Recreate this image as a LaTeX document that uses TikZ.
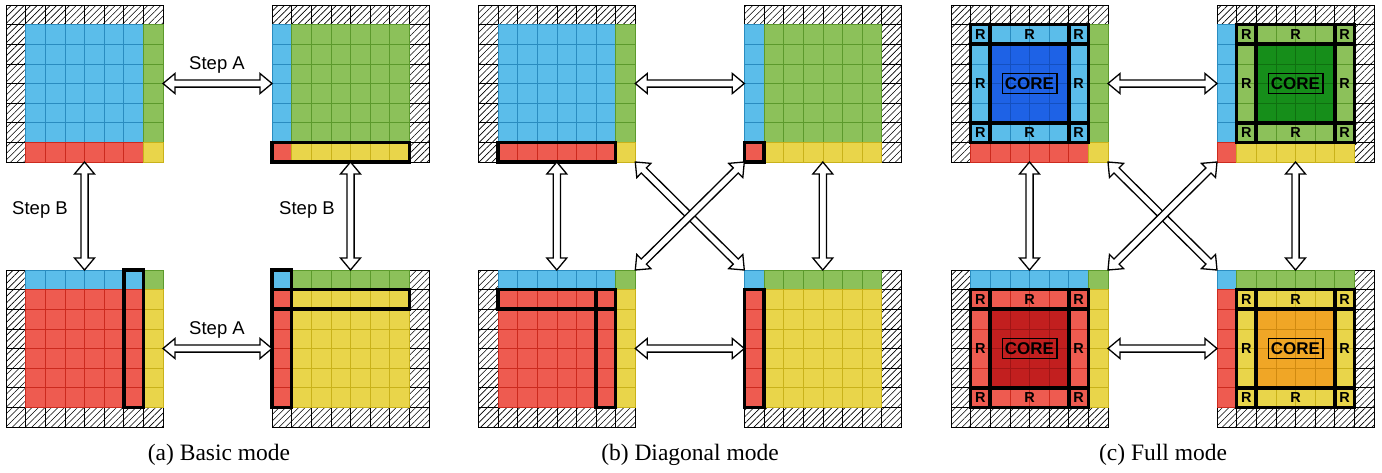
\documentclass[tikz,border=0pt]{standalone}
\usepackage{fontspec}
\setmainfont{Liberation Serif}
\newfontfamily\arialf{Liberation Sans}
\usetikzlibrary{patterns.meta,calc}
\definecolor{cbF}{HTML}{5BBDEA}\definecolor{cbD}{HTML}{2A8CC0}
\definecolor{cgF}{HTML}{8CC15A}\definecolor{cgD}{HTML}{5C9A2C}
\definecolor{crF}{HTML}{EE5B50}\definecolor{crD}{HTML}{CC2A1E}
\definecolor{cyF}{HTML}{E9D54A}\definecolor{cyD}{HTML}{C9B21A}
\definecolor{kbF}{HTML}{1E62E6}\definecolor{kbD}{HTML}{1450C0}
\definecolor{kgF}{HTML}{168E1A}\definecolor{kgD}{HTML}{0F7010}
\definecolor{krF}{HTML}{C21F1F}\definecolor{krD}{HTML}{A01515}
\definecolor{koF}{HTML}{F0A626}\definecolor{koD}{HTML}{D08A10}
\newcommand\cs{19.625}
\newcommand\ah{12pt}\newcommand\aw{10pt}\newcommand\as{3.6pt}
\newcommand\region[5]{\foreach \ii in {#1,...,#2}{\foreach \jj in {#3,...,#4}{\path[#5] (\ii*\cs,\jj*\cs) rectangle ++(\cs,\cs);}}}
\newcommand\gNW{\region{0}{7}{0}{0}{hat}\region{0}{0}{1}{7}{hat}\region{1}{6}{1}{6}{cb}\region{7}{7}{1}{6}{cg}\region{1}{6}{7}{7}{cr}\region{7}{7}{7}{7}{cy}}
\newcommand\gNE{\region{0}{7}{0}{0}{hat}\region{7}{7}{1}{7}{hat}\region{0}{0}{1}{6}{cb}\region{1}{6}{1}{6}{cg}\region{0}{0}{7}{7}{cr}\region{1}{6}{7}{7}{cy}}
\newcommand\gSW{\region{0}{7}{7}{7}{hat}\region{0}{0}{0}{6}{hat}\region{1}{6}{0}{0}{cb}\region{7}{7}{0}{0}{cg}\region{1}{6}{1}{6}{cr}\region{7}{7}{1}{6}{cy}}
\newcommand\gSE{\region{0}{7}{7}{7}{hat}\region{7}{7}{0}{6}{hat}\region{0}{0}{0}{0}{cb}\region{1}{6}{0}{0}{cg}\region{0}{0}{1}{6}{cr}\region{1}{6}{1}{6}{cy}}
\newcommand\hl[4]{\draw[hlw] (#1*\cs,#3*\cs) rectangle (#2*\cs,#4*\cs);}
\newcommand\full[1]{\region{2}{5}{2}{5}{#1}%
 \draw[hlw] (\cs,\cs) rectangle (7*\cs,7*\cs);
 \draw[hlw] (2*\cs,\cs) -- (2*\cs,7*\cs);
 \draw[hlw] (6*\cs,\cs) -- (6*\cs,7*\cs);
 \draw[hlw] (\cs,2*\cs) -- (7*\cs,2*\cs);
 \draw[hlw] (\cs,6*\cs) -- (7*\cs,6*\cs);
 \foreach \px/\py in {1.5/1.5,4/1.5,6.5/1.5,1.5/4,6.5/4,1.5/6.5,4/6.5,6.5/6.5}{\node[rl] at (\px*\cs,\py*\cs) {R};}
 \node[corel] at (4*\cs,4*\cs) {CORE};}
\newcommand\grid[5]{\node[gridbox] (#1) at (#2,#3) {};
 \begin{scope}[shift={(#1.north west)}]#4#5\end{scope}}
\newcommand\dbl[2]{\draw[dbarrow] (#1)
 -- ($(#1)!\ah!(#2)!\aw!90:(#2)$) -- ($(#1)!\ah!(#2)!\as!90:(#2)$)
 -- ($(#2)!\ah!(#1)!\as!-90:(#1)$) -- ($(#2)!\ah!(#1)!\aw!-90:(#1)$)
 -- (#2)
 -- ($(#2)!\ah!(#1)!\aw!90:(#1)$) -- ($(#2)!\ah!(#1)!\as!90:(#1)$)
 -- ($(#1)!\ah!(#2)!\as!-90:(#2)$) -- ($(#1)!\ah!(#2)!\aw!-90:(#2)$)
 -- cycle;}
\tikzset{
 hat/.style={pattern={Lines[angle=45,distance=4.6pt,line width=0.6pt]},draw=black,line width=0.6pt},
 cb/.style={fill=cbF,draw=cbD,line width=0.6pt},
 cg/.style={fill=cgF,draw=cgD,line width=0.6pt},
 cr/.style={fill=crF,draw=crD,line width=0.6pt},
 cy/.style={fill=cyF,draw=cyD,line width=0.6pt},
 kb/.style={fill=kbF,draw=kbD,line width=0.6pt},
 kg/.style={fill=kgF,draw=kgD,line width=0.6pt},
 kr/.style={fill=krF,draw=krD,line width=0.6pt},
 ko/.style={fill=koF,draw=koD,line width=0.6pt},
 hlw/.style={draw=black,line width=3.6pt,line cap=rect},
 gridbox/.style={rectangle,minimum size=157pt,inner sep=0pt,outer sep=0pt,anchor=north west},
 dbarrow/.style={draw=black,fill=white,line width=1.3pt,line join=miter},
 rl/.style={font=\arialf\bfseries\fontsize{14.5}{14.5}\selectfont,inner sep=0pt},
 corel/.style={draw=black,line width=1.3pt,font=\arialf\bfseries\fontsize{17}{17}\selectfont,inner xsep=2.8pt,inner ysep=4pt},
 steplbl/.style={font=\arialf\fontsize{18.5}{20}\selectfont},
 captxt/.style={font=\fontsize{23.5}{25}\selectfont}
}
\begin{document}
\begin{tikzpicture}[x=1pt,y=-1pt]
\useasboundingbox[fill=white] (0,0) rectangle (1382,472);
% panel (a)
\grid{anw}{6}{5}{\gNW}{}
\grid{ane}{272}{5}{\gNE}{\hl{0}{7}{7}{8}}
\grid{asw}{6}{270}{\gSW}{\hl{6}{7}{0}{7}}
\grid{ase}{272}{270}{\gSE}{\hl{0}{1}{0}{7}\hl{0}{7}{1}{2}\hl{0}{1}{0}{1}}
\dbl{anw.east}{ane.west}
\dbl{asw.east}{ase.west}
\dbl{anw.south}{asw.north}
\dbl{ane.south}{ase.north}
\node[steplbl] (sa1) at (217,65) {Step A};
\node[steplbl] (sa2) at (217,330) {Step A};
\node[steplbl] (sb1) at (40,210) {Step B};
\node[steplbl] (sb2) at (307,210) {Step B};
\node[captxt] (capa) at (219,455) {(a) Basic mode};
% panel (b)
\grid{bnw}{478.3}{5}{\gNW}{\hl{1}{7}{7}{8}}
\grid{bne}{744.3}{5}{\gNE}{\hl{0}{1}{7}{8}}
\grid{bsw}{478.3}{270}{\gSW}{\hl{1}{7}{1}{2}\hl{6}{7}{1}{7}}
\grid{bse}{744.3}{270}{\gSE}{\hl{0}{1}{1}{7}}
\dbl{bnw.east}{bne.west}
\dbl{bsw.east}{bse.west}
\dbl{bnw.south}{bsw.north}
\dbl{bne.south}{bse.north}
\dbl{bnw.south east}{bse.north west}
\dbl{bne.south west}{bsw.north east}
\node[captxt] (capb) at (690,455) {(b) Diagonal mode};
% panel (c)
\grid{cnw}{951}{5}{\gNW}{\full{kb}}
\grid{cne}{1217}{5}{\gNE}{\full{kg}}
\grid{csw}{951}{270}{\gSW}{\full{kr}}
\grid{cse}{1217}{270}{\gSE}{\full{ko}}
\dbl{cnw.east}{cne.west}
\dbl{csw.east}{cse.west}
\dbl{cnw.south}{csw.north}
\dbl{cne.south}{cse.north}
\dbl{cnw.south east}{cse.north west}
\dbl{cne.south west}{csw.north east}
\node[captxt] (capc) at (1163,455) {(c) Full mode};
\end{tikzpicture}
\end{document}
